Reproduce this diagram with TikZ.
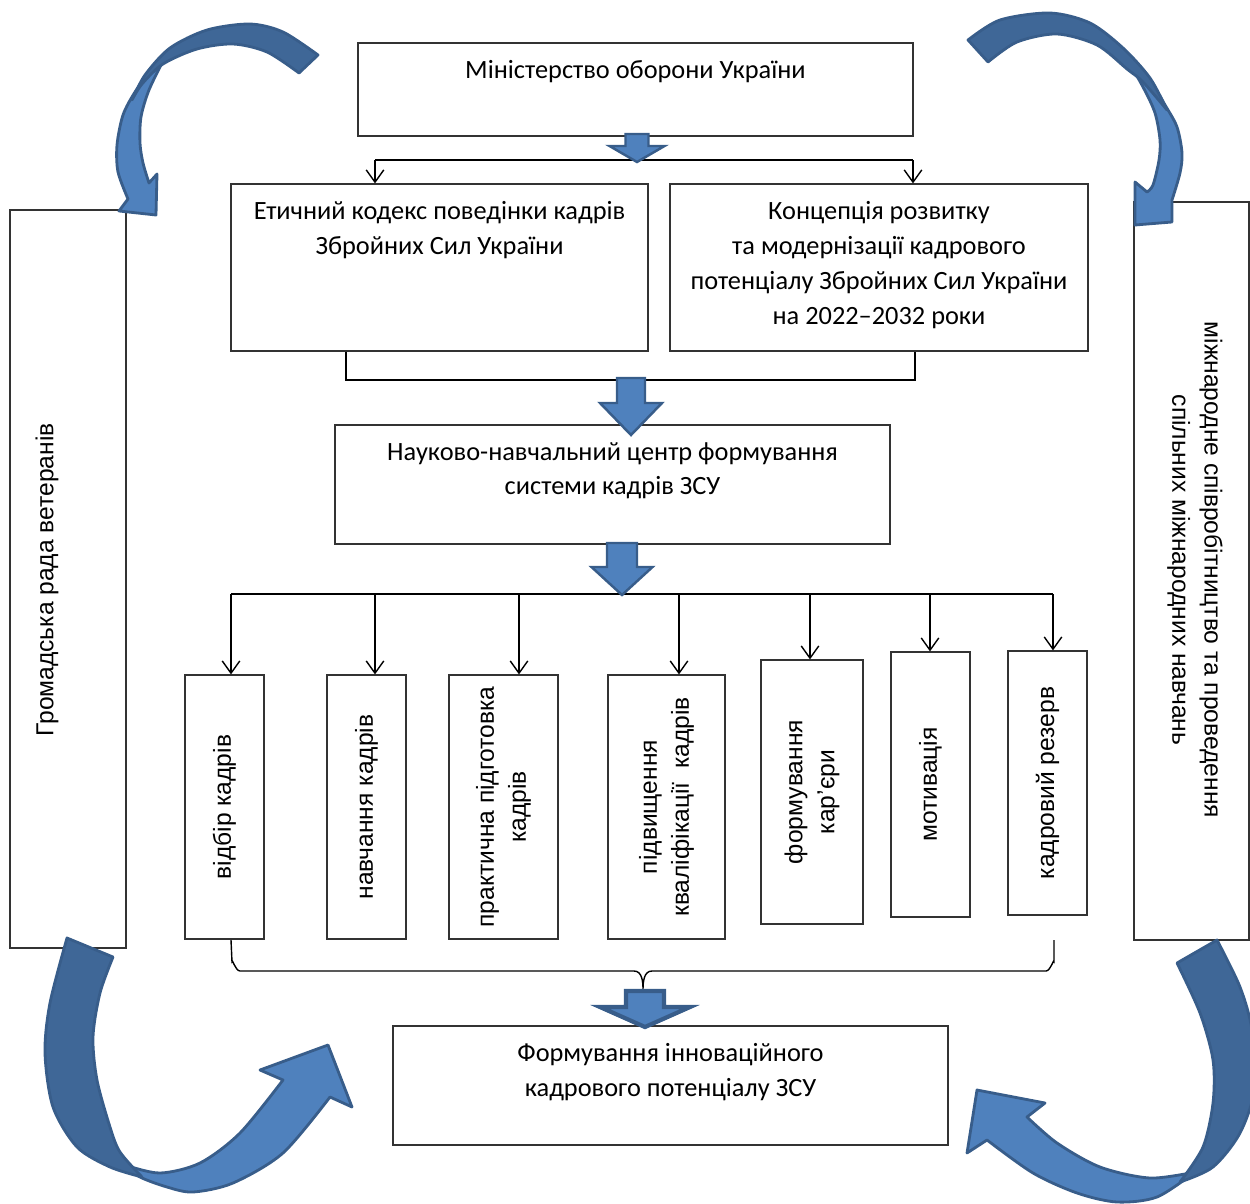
\documentclass[tikz,border=0pt]{standalone}
\usepackage{fontspec}
\setmainfont{Carlito}
\newfontfamily\arialfont{Liberation Sans}
\usetikzlibrary{arrows.meta,positioning}

\definecolor{ribbonlight}{HTML}{4F81BD}
\definecolor{ribbondark}{HTML}{3F6797}
\definecolor{ribbonedge}{HTML}{385D8A}

\tikzset{
  box/.style={draw=black!80, line width=0.7pt, fill=white, inner sep=0pt},
  boxtext/.style={anchor=north, inner sep=0pt, align=center, font=\fontsize{15}{19.85}\selectfont},
  vtext/.style={inner sep=0pt, align=center, font=\arialfont\fontsize{14}{18.3}\selectfont},
  vbox/.style={box, vtext, rotate=90},
  wire/.style={line width=0.8pt},
  link/.style={wire, -{Straight Barb[length=7pt,width=10pt]}},
  blk/.style={fill=ribbonlight, draw=ribbonedge, line width=1.4pt, line join=miter},
  ribbon/.style={fill=ribbonlight, draw=ribbonedge, line width=1.6pt, line join=round},
  ribbonback/.style={ribbon, fill=ribbondark},
}

% x, top, head base, tip, shaft half, head half
\newcommand{\blkarrow}[7][]{%
  \filldraw[blk,#1] (#2-#6,#3) -- (#2+#6,#3) -- (#2+#6,#4) -- (#2+#7,#4) -- (#2,#5)
    -- (#2-#7,#4) -- (#2-#6,#4) -- cycle;}

\begin{document}
\begin{tikzpicture}[x=0.02cm, y=-0.02cm]
\useasboundingbox (0,0) rectangle (1250,1203);

% main boxes
\node[box, minimum width=11.1cm, minimum height=1.86cm] (mo) at (635.5,89.5) {};
\node[boxtext] (mo-t) at ([yshift=-10pt]mo.north) {Міністерство оборони України};
\node[box, minimum width=8.34cm, minimum height=3.34cm] (kodeks) at (439.5,267.5) {};
\node[boxtext] (kodeks-t) at ([yshift=-10pt]kodeks.north) {Етичний кодекс поведінки кадрів\\Збройних Сил України};
\node[box, minimum width=8.36cm, minimum height=3.34cm] (koncep) at (879,267.5) {};
\node[boxtext] (koncep-t) at ([yshift=-10pt]koncep.north) {Концепція розвитку\\та модернізації кадрового\\потенціалу Збройних Сил України\\на 2022–2032 роки};
\node[box, minimum width=11.1cm, minimum height=2.38cm] (centr) at (612.5,484.5) {};
\node[boxtext] (centr-t) at ([yshift=-10pt]centr.north) {Науково-навчальний центр формування\\системи кадрів ЗСУ};
\node[box, minimum width=11.1cm, minimum height=2.38cm] (potenc) at (670.5,1085.5) {};
\node[boxtext] (potenc-t) at ([yshift=-10pt]potenc.north) {Формування інноваційного\\кадрового потенціалу ЗСУ};

% side boxes
\node[box, minimum width=2.32cm, minimum height=14.76cm] (rada) at (68,579) {};
\node[vtext, rotate=90] (rada-t) at (47,580) {Громадська рада ветеранів};
\node[box, minimum width=2.3cm, minimum height=14.76cm] (mizhnar) at (1191.5,571) {};
\node[vtext, rotate=-90] (mizhnar-t) at (1195,570) {міжнародне співробітництво та проведення\\спільних міжнародних навчань};

% directions
\node[vbox, minimum width=5.28cm, minimum height=1.58cm] (vidbir) at (224.5,807) {відбір кадрів};
\node[vbox, minimum width=5.28cm, minimum height=1.58cm] (navch) at (366.5,807) {навчання кадрів};
\node[vbox, minimum width=5.28cm, minimum height=2.18cm] (prakt) at (503.5,807) {практична підготовка\\кадрів};
\node[vbox, minimum width=5.28cm, minimum height=2.34cm] (kval) at (666.5,807) {підвищення\\кваліфікації~ кадрів};
\node[vbox, minimum width=5.28cm, minimum height=2.04cm] (kariera) at (812,792) {формування\\кар’єри};
\node[vbox, minimum width=5.3cm, minimum height=1.58cm] (motiv) at (930.5,784.5) {мотивація};
\node[vbox, minimum width=5.28cm, minimum height=1.58cm] (rezerv) at (1047.5,783) {кадровий резерв};

% split under the ministry
\coordinate (s1) at (375,160);
\coordinate (s2) at (913,160);
\draw[wire] (s1) -- (s2);
\draw[link] (s1) -- (s1 |- kodeks.north);
\draw[link] (s2) -- (s2 |- koncep.north);

% join of the two documents
\coordinate (j1) at (346,380);
\coordinate (j2) at (915,380);
\draw[wire] (j1 |- kodeks.south) -- (j1) -- (j2) -- (j2 |- koncep.south);

% distribution to the directions
\coordinate (d1) at (231,594);
\coordinate (d7) at (1053,594);
\draw[wire] (d1) -- (d7);
\foreach \xx/\bx in {231/vidbir, 375/navch, 519/prakt, 679/kval, 810/kariera, 930/motiv, 1053/rezerv}{
  \coordinate (dd) at (\xx,594);
  \draw[link] (dd) -- (dd |- \bx.east);
}

% brace under the directions
\coordinate (b1) at (231,940);
\coordinate (b2) at (1054,940);
\coordinate (bm) at (643,990);
\draw[wire] (b1) -- (232,962) to[out=90,in=180] (240,971) -- (634,971) to[out=0,in=90] (bm)
  to[out=90,in=180] (652,971) -- (1046,971) to[out=0,in=90] (1054,962) -- (b2);

% block arrows
\blkarrow{637}{134}{146}{162}{11.5}{27.5}
\blkarrow{631}{378}{403}{435}{14}{31}
\blkarrow{622}{543}{567}{595}{15}{30.5}
\blkarrow[line width=2.4pt]{645}{991}{1007}{1027}{19}{45}

% curved arrows, top left
\filldraw[ribbon] plot[smooth] coordinates {(165,57) (150,72) (135,92) (123,115) (117,145) (118,172) (128,199)}
  -- (119,211) -- (156,215) -- (157,174)
  -- plot[smooth] coordinates {(149,183) (143,163) (140,143) (141,117) (149,90) (165,57)} -- cycle;
\filldraw[ribbonback] plot[smooth] coordinates {(318,55) (283,32) (250,24) (207,30) (170,48) (145,75) (132,100)}
  -- plot[smooth] coordinates {(132,100) (142,84) (163,64) (197,49) (233,44) (267,52) (299,73)} -- cycle;

% top right
\filldraw[ribbon] plot[smooth] coordinates {(1122,50) (1148,78) (1165,105) (1177,127) (1182,153) (1180,173) (1172,200)}
  -- (1172,222) -- (1135,225) -- (1135,182)
  -- plot[smooth] coordinates {(1147,192) (1153,185) (1159,160) (1160,140) (1155,113) (1143,87) (1122,50)} -- cycle;
\filldraw[ribbonback] plot[smooth] coordinates {(968,40) (1000,20) (1050,13) (1090,23) (1123,48) (1150,78) (1167,110)}
  -- plot[smooth] coordinates {(1167,110) (1143,82) (1127,69) (1097,45) (1057,34) (1017,42) (988,62)} -- cycle;

% bottom left
\filldraw[ribbon] plot[smooth] coordinates {(125,1165) (140,1177) (167,1187) (193,1192) (233,1183) (283,1153) (330,1097)}
  -- (352,1107) -- (328,1045) -- (260,1070)
  -- plot[smooth] coordinates {(283,1080) (240,1133) (200,1163) (160,1173) (125,1165)} -- cycle;
\filldraw[ribbonback] plot[smooth] coordinates {(67,938) (50,1003) (45,1053) (53,1107) (77,1147) (110,1167) (142,1177)}
  -- plot[smooth] coordinates {(142,1177) (120,1152) (110,1127) (97,1080) (93,1037) (100,993) (113,957)} -- cycle;

% bottom right
\filldraw[ribbon] plot[smooth] coordinates {(1195,1172) (1157,1197) (1117,1202) (1077,1193) (1033,1173) (987,1140)}
  -- (967,1153) -- (977,1090) -- (1045,1103)
  -- plot[smooth] coordinates {(1027,1117) (1057,1143) (1100,1167) (1150,1178) (1195,1172)} -- cycle;
\filldraw[ribbonback] plot[smooth] coordinates {(1217,940) (1240,987) (1252,1030) (1255,1087) (1240,1133) (1213,1167) (1180,1182)}
  -- plot[smooth] coordinates {(1180,1182) (1203,1147) (1213,1103) (1213,1060) (1200,1013) (1177,963)} -- cycle;
\end{tikzpicture}
\end{document}
